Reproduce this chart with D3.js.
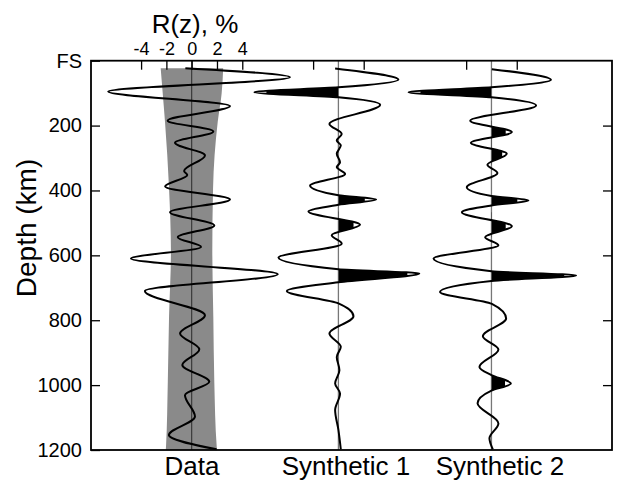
<!DOCTYPE html>
<html><head><meta charset="utf-8">
<script src="https://cdn.jsdelivr.net/npm/d3@7"></script>
<style>body{margin:0;background:#fff}svg{display:block;font-family:"Liberation Sans",Arial,Helvetica,sans-serif}</style>
</head><body><svg id="c" width="618" height="481"></svg>
<script>
// ---------- data ----------
const traceNames = ["Data", "Synthetic 1", "Synthetic 2"];
const traceOffsets = [0, 11.6, 23.7];           // zero line of each trace, in R(z) % units

const dataDepth = [23, 51, 95, 140, 185, 218, 253, 292, 340, 352, 388, 428, 467, 508, 544, 574, 610, 658, 710, 785, 841, 890, 938, 990, 1031, 1097, 1154, 1198];
const dataAmp   = [-0.5, 7.77, -6.6, 3.03, -1.9, 1.71, -1.32, 1.05, -0.6, -0.35, -2.1, 3.03, -1.71, 1.79, -1.1, 0.74, -4.8, 6.8, -3.7, 1.05, -0.92, 0.6, -0.74, 1.39, -0.53, 0.26, -1.8, 1.97];

const syn1Depth = [24, 58.5, 82, 97, 113, 136, 195, 226, 246, 261, 287, 313, 328, 349, 385, 415, 428, 444, 465, 506, 538, 564, 607, 643, 656, 683, 710, 748, 788, 841, 882, 913, 954, 995, 1026, 1077, 1138, 1198];
const syn1Amp   = [-0.26, 4.74, 0, -6.64, 0, 3.3, -0.71, 0.26, -0.13, 0.19, -0.13, 0.13, -0.13, 0.53, -2.24, 0, 2.98, 0, -2.37, 1.71, -0.53, 0.26, -4.74, 0, 6.4, 0, -4.08, 0, 1.19, -0.71, 0.19, -0.13, 0.08, -0.26, 0.13, -0.26, 0, 0.19];

const syn2Depth = [26, 58.5, 82, 97.5, 113, 138, 185, 220, 253, 287, 321, 346, 390, 417, 431, 446, 467, 510, 544, 569, 610, 649, 662, 679, 713, 749, 795, 849, 890, 944, 969, 995, 1017, 1056, 1118, 1164, 1198];
const syn2Amp   = [0.03, 4.7, 0, -6.56, 0, 3.53, -1.68, 1.61, -1.63, 1.21, -0.32, 0.47, -1.95, 0, 2.92, 0, -2.34, 1.61, -0.5, 0.55, -4.58, 0, 6.7, 0, -4.07, 0, 1.16, -0.68, 0.55, -0.95, 0, 1.53, 0, -1.1, 0.55, -0.16, 0.11];

// filled (highlighted) lobes: depths of their peaks
const syn1FillDepths = [97, 428, 506, 656];
const syn2FillDepths = [97.5, 220, 287, 431, 510, 662, 995];

// data uncertainty band
const bandDepth = [23, 100, 188, 393, 589, 789, 993, 1190, 1200];
const bandLow   = [-2.45, -2.29, -2.11, -1.79, -1.64, -1.79, -1.89, -2.03, -2.05];
const bandHigh  = [2.49, 2.37, 2.06, 1.69, 1.63, 1.71, 1.79, 1.98, 2.0];

const depthTicks = [0, 200, 400, 600, 800, 1000, 1200];
const depthTickLabels = ["FS", "200", "400", "600", "800", "1000", "1200"];
const rTicks = [-4, -2, 0, 2, 4];
const synthTicks = [-2, 2];

// ---------- layout ----------
const svg = d3.select("#c");
const L = 91, R = 612, T = 60.7, B = 450;
const y = d3.scaleLinear().domain([0, 1200]).range([T, B]);
const x = d3.scaleLinear().domain([-7.96, 33.23]).range([L, R]);
const traceScale = off => d3.scaleLinear().domain([-7.96 - off, 33.23 - off]).range([L, R]);

svg.append("rect").attr("width", 618).attr("height", 481).attr("fill", "#fff");

// band
const band = d3.zip(bandDepth, bandLow, bandHigh);
svg.append("path").datum(band)
  .attr("d", d3.area().y(d => y(d[0])).x0(d => x(traceOffsets[0] + d[1])).x1(d => x(traceOffsets[0] + d[2])).curve(d3.curveMonotoneY))
  .attr("fill", "#8a8a8a");

// zero lines
traceOffsets.forEach((off, i) => {
  svg.append("line").attr("x1", x(off)).attr("x2", x(off)).attr("y1", T).attr("y2", B)
    .attr("stroke", i === 0 ? "#333" : "#777").attr("stroke-width", i === 0 ? 1.1 : 1.3);
});

const traces = [
  {pts: d3.zip(dataDepth, dataAmp), fills: []},
  {pts: d3.zip(syn1Depth, syn1Amp), fills: syn1FillDepths},
  {pts: d3.zip(syn2Depth, syn2Amp), fills: syn2FillDepths}
];

const defs = svg.append("defs");
traces.forEach((tr, i) => {
  const off = traceOffsets[i];
  const xs = traceScale(off);
  const base = xs(0);
  const area = d3.area().y(d => y(d[0])).x0(base).x1(d => xs(d[1])).curve(d3.curveMonotoneY);
  tr.fills.forEach((fd, j) => {
    const k = tr.pts.findIndex(p => p[0] === fd);
    const a = tr.pts[k][1];
    const peakPx = Math.abs(xs(a) - base);
    const lens = Math.min(12, 0.3 * peakPx);
    const w = peakPx - lens;
    const id = `clip${i}_${j}`;
    defs.append("clipPath").attr("id", id).append("rect")
      .attr("x", a > 0 ? base : base - w).attr("width", w)
      .attr("y", y(tr.pts[k - 1][0])).attr("height", y(tr.pts[k + 1][0]) - y(tr.pts[k - 1][0]));
    svg.append("path").datum(tr.pts).attr("d", area).attr("fill", "#000").attr("clip-path", `url(#${id})`);
  });
  const line = d3.line().y(d => y(d[0])).x(d => xs(d[1])).curve(d3.curveMonotoneY);
  svg.append("path").datum(tr.pts).attr("d", line).attr("fill", "none").attr("stroke", "#000").attr("stroke-width", 2);
});

// axes
const fontFam = '"Liberation Sans",Arial,Helvetica,sans-serif';
const gl = svg.append("g").attr("transform", `translate(${L},0)`)
  .call(d3.axisLeft(y).tickValues(depthTicks).tickFormat((d, i) => depthTickLabels[i]).tickSize(-9).tickPadding(9));
gl.selectAll("text").attr("font-size", 20).attr("font-family", fontFam).attr("fill", "#000");

svg.append("g").attr("transform", `translate(${R},0)`)
  .call(d3.axisRight(y).tickValues(depthTicks.slice(1, -1)).tickFormat("").tickSize(-9));

const gt = svg.append("g").attr("transform", `translate(0,${T})`)
  .call(d3.axisTop(traceScale(traceOffsets[0])).tickValues(rTicks).tickFormat(d3.format("d")).tickSize(-9).tickPadding(6));
gt.selectAll("text").attr("font-size", 18).attr("font-family", fontFam).attr("fill", "#000")
  .text(d => (d < 0 ? "-" : "") + Math.abs(d));
[1, 2].forEach(i => {
  svg.append("g").attr("transform", `translate(0,${T})`)
    .call(d3.axisTop(traceScale(traceOffsets[i])).tickValues(synthTicks).tickFormat("").tickSize(-9));
});
svg.selectAll(".domain").remove();
svg.selectAll(".tick line").attr("stroke", "#000").attr("stroke-width", 1.3);

// frame
svg.append("rect").attr("x", L).attr("y", T).attr("width", R - L).attr("height", B - T)
  .attr("fill", "none").attr("stroke", "#000").attr("stroke-width", 1.8);

// titles
svg.append("text").attr("x", 195).attr("y", 33).attr("text-anchor", "middle")
  .attr("font-size", 26).text("R(z), %");
svg.append("text").attr("transform", "translate(36,228) rotate(-90)").attr("text-anchor", "middle")
  .attr("font-size", 28).text("Depth (km)");
const labelX = [192, 346, 500];
traceNames.forEach((n, i) => {
  svg.append("text").attr("x", labelX[i]).attr("y", 475).attr("text-anchor", "middle")
    .attr("font-size", 26).text(n);
});
</script></body></html>
